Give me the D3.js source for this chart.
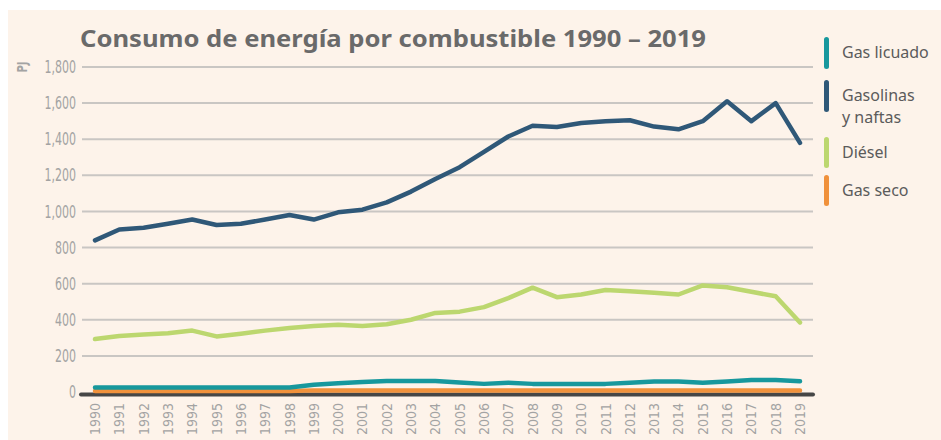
<!DOCTYPE html>
<html>
<head>
<meta charset="utf-8">
<script src="https://cdn.jsdelivr.net/npm/d3@7"></script>
<style>
  body { margin: 0; background: #fff; }
  svg { display: block; }
  .tick-y { font-family: "DejaVu Sans Condensed", "DejaVu Sans"; font-size: 17px; fill: #a3a3a3; }
  .tick-x { font-family: "DejaVu Sans Condensed", "DejaVu Sans"; font-size: 14px; fill: #a3a3a3; }
  .legend-text { font-family: "Noto Sans", sans-serif; font-size: 16px; fill: #5b5b5b; }
</style>
</head>
<body>
<div id="chart"></div>
<script>
const years = d3.range(1990, 2020);
const yTicks = [0, 200, 400, 600, 800, 1000, 1200, 1400, 1600, 1800];

const gasolinas = [840, 900, 910, 932, 955, 925, 932, 955, 980, 955, 995, 1010, 1050, 1110, 1180, 1245, 1330, 1415, 1475, 1468, 1490, 1500, 1505, 1470, 1455, 1500, 1610, 1500, 1600, 1380];
const diesel = [293, 310, 318, 326, 340, 308, 323, 340, 355, 365, 372, 365, 375, 400, 438, 445, 470, 520, 578, 525, 540, 565, 558, 550, 540, 590, 580, 555, 530, 385];
const gasLicuado = [25, 25, 25, 25, 25, 25, 25, 25, 25, 40, 48, 55, 61, 61, 61, 53, 45, 51, 45, 45, 45, 45, 51, 58, 58, 51, 58, 67, 67, 59];
const gasSeco = [5, 5, 5, 5, 5, 5, 5, 5, 5, 9, 9, 9, 9, 9, 9, 9, 9, 9, 9, 9, 9, 9, 9, 9, 9, 9, 9, 9, 9, 9];

const series = [
  { name: "Gas seco", values: gasSeco, color: "#f0913b" },
  { name: "Gas licuado", values: gasLicuado, color: "#17989d" },
  { name: "Diésel", values: diesel, color: "#bcd76f" },
  { name: "Gasolinas", values: gasolinas, color: "#2f5878" }
];

const legendItems = [
  { label: ["Gas licuado"], color: "#17989d", y0: 37, y1: 69 },
  { label: ["Gasolinas", "y naftas"], color: "#2f5878", y0: 80, y1: 112 },
  { label: ["Diésel"], color: "#bcd76f", y0: 137, y1: 168 },
  { label: ["Gas seco"], color: "#f0913b", y0: 175, y1: 206 }
];

const W = 941, H = 440;
const svg = d3.select("#chart").append("svg").attr("width", W).attr("height", H);

// fondo crema
svg.append("rect").attr("x", 8).attr("y", 10).attr("width", W - 8).attr("height", H - 10).attr("fill", "#fdf3ea");

const x = d3.scaleLinear().domain([1990, 2019]).range([95, 800]);
const y = d3.scaleLinear().domain([0, 1800]).range([392, 67]);

// rejilla
svg.append("g")
  .selectAll("line")
  .data(yTicks.filter(d => d > 0))
  .join("line")
  .attr("x1", 82).attr("x2", 813)
  .attr("y1", d => y(d)).attr("y2", d => y(d))
  .attr("stroke", "#c9c6c3").attr("stroke-width", 2);

svg.append("g")
  .selectAll("text")
  .data(yTicks)
  .join("text")
  .attr("class", "tick-y")
  .attr("transform", d => `translate(76,${y(d)}) scale(0.72,1)`)
  .attr("dy", "0.36em")
  .attr("text-anchor", "end")
  .text(d => d3.format(",")(d));

// etiqueta PJ
svg.append("text")
  .attr("class", "tick-y")
  .attr("transform", `translate(27,${y(1800)}) rotate(-90) scale(0.8,1)`)
  .attr("text-anchor", "middle")
  .style("font-weight", "bold")
  .style("font-size", "14px")
  .text("PJ");

// línea base
svg.append("line")
  .attr("x1", 81).attr("x2", 813)
  .attr("y1", y(0) + 2.5).attr("y2", y(0) + 2.5)
  .attr("stroke", "#464646").attr("stroke-width", 4).attr("stroke-linecap", "round");

// años
svg.append("g")
  .selectAll("text")
  .data(years)
  .join("text")
  .attr("class", "tick-x")
  .attr("transform", d => `translate(${x(d)},403) rotate(-90)`)
  .attr("dy", "0.36em")
  .attr("text-anchor", "end")
  .text(d => d);

// líneas
const line = d3.line()
  .x((d, i) => x(years[i]))
  .y(d => y(d));

svg.append("g")
  .selectAll("path")
  .data(series)
  .join("path")
  .attr("d", d => line(d.values))
  .attr("fill", "none")
  .attr("stroke", d => d.color)
  .attr("stroke-width", 4.5)
  .attr("stroke-linejoin", "round")
  .attr("stroke-linecap", "round");

// título
svg.append("text")
  .attr("x", 80).attr("y", 47)
  .attr("textLength", 626)
  .attr("lengthAdjust", "spacingAndGlyphs")
  .style("font-family", "'Noto Sans', sans-serif")
  .style("font-weight", "bold")
  .style("font-size", "24px")
  .style("fill", "#6a6a6a")
  .text("Consumo de energía por combustible 1990 – 2019");

// leyenda
const leg = svg.append("g");
leg.selectAll("rect")
  .data(legendItems)
  .join("rect")
  .attr("x", 824).attr("y", d => d.y0)
  .attr("width", 5).attr("height", d => d.y1 - d.y0)
  .attr("rx", 2.5)
  .attr("fill", d => d.color);

leg.selectAll("text")
  .data(legendItems)
  .join("text")
  .attr("class", "legend-text")
  .attr("x", 842)
  .attr("y", d => d.y0 + 21)
  .each(function (d) {
    d3.select(this).selectAll("tspan")
      .data(d.label)
      .join("tspan")
      .attr("x", 842)
      .attr("dy", (t, i) => (i === 0 ? 0 : 22))
      .text(t => t);
  });
</script>
</body>
</html>
